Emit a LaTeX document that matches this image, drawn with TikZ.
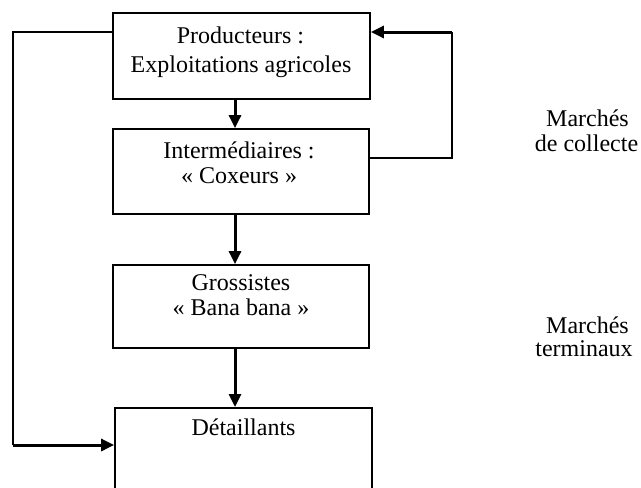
\documentclass[tikz,border=0pt]{standalone}
\usepackage{fontspec}
\setmainfont{Liberation Serif}
\usetikzlibrary{arrows.meta,calc}
\begin{document}
\begin{tikzpicture}[x=0.5pt,y=-0.5pt,
  box/.style={draw, line width=0.9pt, inner sep=0pt, minimum width=128.5pt},
  lbl/.style={anchor=base, inner sep=0pt, font=\fontsize{12pt}{13.5pt}\selectfont},
  thin/.style={line width=1pt},
  thick/.style={line width=1.5pt},
  arr/.style={line width=1.5pt, -{Triangle[length=6.5pt,width=6pt]}}]
\useasboundingbox (0,0) rectangle (641,487);
\clip (0,0) rectangle (641,487);
% boxes
\node[box, minimum height=43pt] (p) at (241.5,56) {};
\node[box, minimum height=42.5pt, minimum width=128pt] (i) at (241,171.5) {};
\node[box, minimum height=41.5pt, minimum width=128pt] (g) at (241,306.5) {};
\node[box, minimum height=56.5pt, anchor=north] (d) at (243.5,407) {};
% texts
\node[lbl] (p1) at (240.5,43) {Producteurs :};
\node[lbl] (p2) at (241,72) {Exploitations agricoles};
\node[lbl] (i1) at (239,158) {Intermédiaires :};
\node[lbl] (i2) at (239,183) {« Coxeurs »};
\node[lbl] (g1) at (241,290.5) {Grossistes};
\node[lbl] (g2) at (241,315.5) {« Bana bana »};
\node[lbl] (d1) at (243.5,435) {Détaillants};
\node[lbl] (m1) at (587.5,126) {Marchés};
\node[lbl] (m2) at (586.5,151.5) {de collecte};
\node[lbl] (t1) at (587.5,333) {Marchés};
\node[lbl] (t2) at (584,356) {terminaux};
% connector helpers
\coordinate (ax) at (235,0);
\coordinate (ly) at (0,32);
\coordinate (lx) at (13,0);
\coordinate (by) at (0,445);
\coordinate (ry) at (0,158);
\coordinate (rx) at (452,0);
\coordinate (lt) at (lx |- ly);
\coordinate (lb) at (lx |- by);
\coordinate (rt) at (rx |- ly);
\coordinate (rb) at (rx |- ry);
% vertical arrows
\draw[arr] (ax |- p.south) -- (ax |- i.north);
\draw[arr] (ax |- i.south) -- (ax |- g.north);
\draw[arr] (ax |- g.south) -- (ax |- d.north);
% left loop
\draw[thin] (p.west |- ly) -- (lt) -- (lb);
\draw[arr] (lb) -- (d.west |- by);
% right loop
\draw[thin] (i.east |- ry) -- (rb) -- (rt);
\draw[arr] (rt) -- (p.east |- ly);
\end{tikzpicture}
\end{document}
